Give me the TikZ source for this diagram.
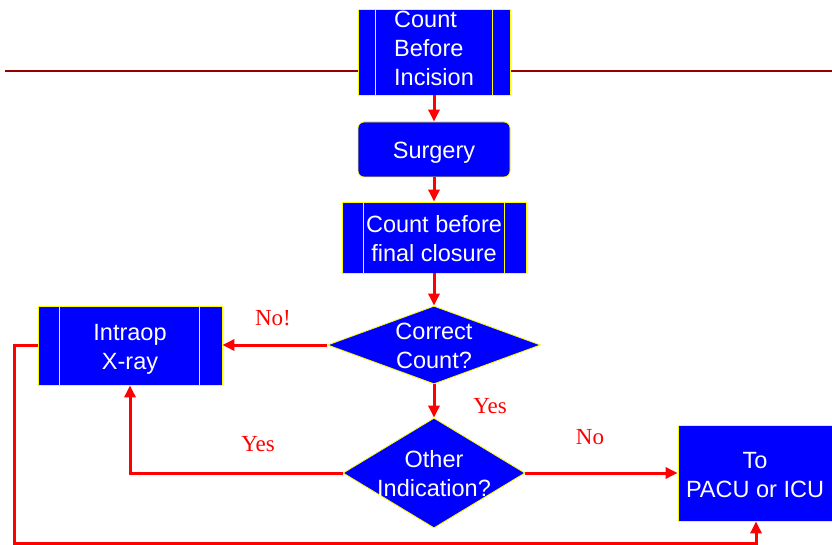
\documentclass[tikz,border=0pt]{standalone}
\usepackage{fontspec}
\newfontfamily\boxfont{Liberation Sans}
\newfontfamily\labelfont{Liberation Serif}
\usetikzlibrary{arrows.meta,shapes.geometric}
\definecolor{boxblue}{RGB}{0,0,255}
\definecolor{edgeyellow}{RGB}{255,255,0}
\definecolor{flowred}{RGB}{255,0,0}
\definecolor{rulered}{RGB}{150,0,0}

\begin{document}
\begin{tikzpicture}[x=1pt,y=-1pt,
  box/.style={draw=edgeyellow, line width=0.8pt, fill=boxblue, inner sep=0pt},
  decision/.style={diamond, draw=edgeyellow, line width=0.8pt, fill=boxblue, inner sep=0pt},
  boxtext/.style={text=white, font=\boxfont\fontsize{23.5}{29}\selectfont, align=center, inner sep=0pt},
  sideline/.style={draw=edgeyellow, line width=0.8pt},
  flow/.style={draw=flowred, line width=3pt, -{Triangle[length=12pt,width=11pt]}},
  answer/.style={text=flowred, font=\labelfont\fontsize{23}{28}\selectfont, inner sep=0pt}
]
\useasboundingbox (0,0) rectangle (832,545);

% horizontal rule behind the first step
\draw[rulered, line width=1.3pt] (5,71) -- (832,71);

% process steps
\node[box, minimum width=152pt, minimum height=86pt] (cbi) at (434,52) {};
\node[boxtext, align=left, yshift=3.5pt] (cbitext) at (cbi) {Count\\Before\\Incision};
\draw[sideline] ([xshift=18pt]cbi.north west) -- ([xshift=18pt]cbi.south west);
\draw[sideline] ([xshift=-18pt]cbi.north east) -- ([xshift=-18pt]cbi.south east);

\node[box, rounded corners=6pt, minimum width=152pt, minimum height=55pt] (sur) at (434,149.5) {};
\node[boxtext, yshift=-3.5pt] (surtext) at (sur) {Surgery};

\node[box, minimum width=184pt, minimum height=71pt] (cbf) at (434,237.5) {};
\node[boxtext, yshift=-1pt] (cbftext) at (cbf) {Count before\\final closure};
\draw[sideline] ([xshift=22pt]cbf.north west) -- ([xshift=22pt]cbf.south west);
\draw[sideline] ([xshift=-22pt]cbf.north east) -- ([xshift=-22pt]cbf.south east);

\node[box, minimum width=184pt, minimum height=79pt] (xr) at (130,345.5) {};
\node[boxtext, yshift=-4pt] (xrtext) at (xr) {Intraop\\X-ray};
\draw[sideline] ([xshift=22pt]xr.north west) -- ([xshift=22pt]xr.south west);
\draw[sideline] ([xshift=-23pt]xr.north east) -- ([xshift=-23pt]xr.south east);

\node[box, minimum width=156pt, minimum height=96pt] (pa) at (756,473) {};
\node[boxtext, yshift=-2pt, xshift=-1pt] (patext) at (pa) {To\\PACU or ICU};

% decisions
\node[decision, minimum width=213pt, minimum height=78pt] (cc) at (434,345) {};
\node[boxtext, yshift=-1pt] (cctext) at (cc) {Correct\\Count?};
\node[decision, minimum width=182pt, minimum height=110pt] (oi) at (434,473) {};
\node[boxtext, yshift=-1pt] (oitext) at (oi) {Other\\Indication?};

% connectors
\draw[flow] (cbi) -- (sur);
\draw[flow] (sur) -- (cbf);
\draw[flow] (cbf) -- (cc);
\draw[flow] (cc.west) -- (cc.west -| xr.east);
\draw[flow] (cc) -- (oi);
\draw[flow] (oi.west) -| (xr.south);
\draw[flow] (oi.east) -- (oi.east -| pa.west);
\coordinate (loop) at (14,543);
\draw[flow] (xr.west) -| (loop) -| (pa.south);

% answers
\node[answer] (nobang) at (273,318) {No!};
\node[answer] (yesdown) at (490,406) {Yes};
\node[answer] (yesback) at (258,444) {Yes};
\node[answer] (noright) at (590,437) {No};
\end{tikzpicture}
\end{document}
